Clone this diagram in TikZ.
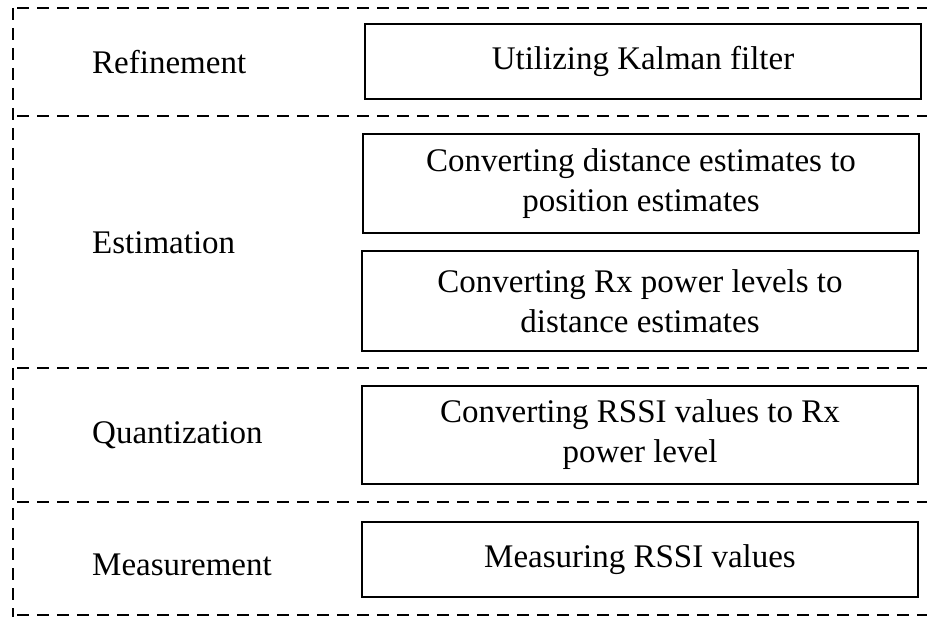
\documentclass[tikz,border=0pt]{standalone}
\usepackage{fontspec}
\setmainfont{Liberation Serif}
\begin{document}
\begin{tikzpicture}[x=1pt,y=-1pt,
  stage/.style={draw, line width=2.5pt, dash pattern=on 12pt off 8pt},
  stepbox/.style={draw, line width=2.8pt, align=center, inner sep=0pt,
    minimum width=556pt, font=\fontsize{33}{40}\selectfont},
  layer/.style={anchor=base west, inner sep=0pt, font=\fontsize{33}{40}\selectfont}]
\useasboundingbox (0,0) rectangle (927,617);
\clip (0,0) rectangle (927,617);

% stage separators (dashed frame, open on the right)
\draw[stage] (13,8) -- (13,617);
\foreach \yy in {8,116,368,502,615}
  \draw[stage] (17,\yy) -- (940,\yy);

% stage names
\node[layer] (refine)  at (92,74)  {Refinement};
\node[layer] (estim)   at (92,254) {Estimation};
\node[layer] (quant)   at (92,444) {Quantization};
\node[layer] (measure) at (92,575) {Measurement};

% processing steps
\node[stepbox, minimum height=75pt] (kalman) at (643,61.5) {Utilizing Kalman filter};
\node[stepbox, minimum height=99pt] (pos)    at (641,183.5) {Converting distance estimates to\\position estimates};
\node[stepbox, minimum height=100pt] (dist)  at (640,301) {Converting Rx power levels to\\distance estimates};
\node[stepbox, minimum height=98pt] (rxpow)  at (640,435) {Converting RSSI values to Rx\\power level};
\node[stepbox, minimum height=75pt] (rssi)   at (640,559.5) {Measuring RSSI values};
\end{tikzpicture}
\end{document}
